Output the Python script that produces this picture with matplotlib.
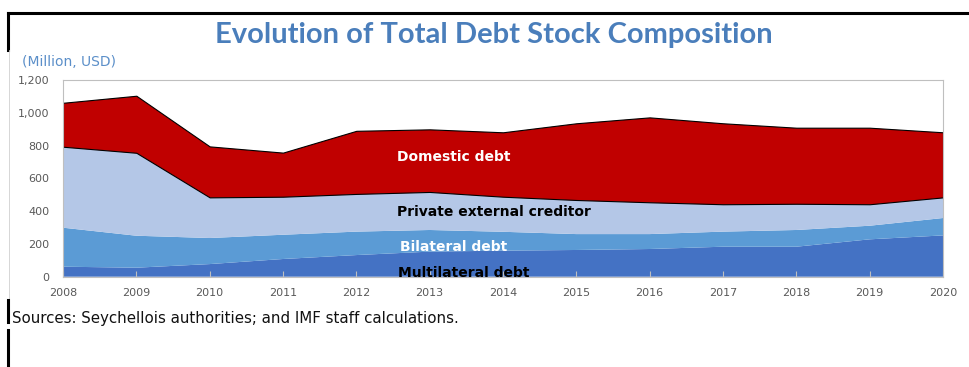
import matplotlib
matplotlib.use("Agg")
import matplotlib.pyplot as plt
from matplotlib.lines import Line2D

years = [2008, 2009, 2010, 2011, 2012, 2013, 2014, 2015, 2016, 2017, 2018, 2019, 2020]
multilateral = [61, 55, 77, 108, 132, 153, 159, 163, 169, 183, 183, 228, 252]
bilateral = [238, 195, 159, 148, 143, 132, 115, 97, 91, 92, 102, 83, 106]
private_ext = [494, 506, 248, 232, 230, 232, 214, 208, 194, 167, 160, 131, 126]
domestic = [268, 348, 311, 269, 385, 382, 393, 468, 518, 494, 464, 467, 397]

yticks = [0, 200, 400, 600, 800, 1000, 1200]
ytick_labels = ["0", "200", "400", "600", "800", "1,000", "1,200"]

colors = ["#4472C4", "#5B9BD5", "#B4C7E7", "#C00000"]
tick_grey = "#595959"
title_blue = "#4A7EBB"

W, H = 970, 367
fig = plt.figure(figsize=(W / 100, H / 100), dpi=100)
fig.patch.set_facecolor("white")

ax = fig.add_axes([63 / W, (H - 276.7) / H, 880 / W, 196.7 / H])
polys = ax.stackplot(years, multilateral, bilateral, private_ext, domestic,
                     colors=colors, linewidth=0)
polys[3].set_edgecolor("black")
polys[3].set_linewidth(0.8)

ax.set_xlim(2008, 2020)
ax.set_ylim(0, 1200)
ax.set_xticks(years)
ax.set_xticklabels([str(y) for y in years])
ax.set_yticks(yticks)
ax.set_yticklabels(ytick_labels)
ax.tick_params(axis="x", direction="in", length=4, color="#BFBFBF",
               labelsize=8, labelcolor=tick_grey, pad=8)
ax.tick_params(axis="y", length=0, labelsize=8, labelcolor=tick_grey, pad=10)
for s in ax.spines.values():
    s.set_color("#BFBFBF")
    s.set_linewidth(0.8)

# series labels inside the areas
lbl = dict(fontsize=10, fontweight="bold", ha="center", va="center")
ax.text(2013.33, 730, "Domestic debt", color="white", **lbl)
ax.text(2013.88, 395, "Private external creditor", color="black", **lbl)
ax.text(2013.33, 181, "Bilateral debt", color="white", **lbl)
ax.text(2013.47, 25, "Multilateral debt", color="black", **lbl)

fig.text(494 / W, 1 - 35 / H, "Evolution of Total Debt Stock Composition",
         ha="center", va="center", fontsize=21, fontweight="bold",
         color=title_blue, family=["Lato", "DejaVu Sans"])
fig.text(22 / W, 1 - 62 / H, "(Million, USD)", ha="left", va="center",
         fontsize=10, color="#5B8FC9")
fig.text(12 / W, 1 - 318 / H,
         "Sources: Seychellois authorities; and IMF staff calculations.",
         ha="left", va="center", fontsize=10.8, color="#111111")

# frame lines along top and left edge
def edge(xs, ys, lw, c="black"):
    fig.add_artist(Line2D([x / W for x in xs], [1 - y / H for y in ys],
                          color=c, linewidth=lw, transform=fig.transFigure))

edge([8, W], [13, 13], 2.2)
edge([8.5, 8.5], [13, 50], 2.2)
edge([9.5, 9.5], [50, 300], 0.6, "#D0D0D0")
edge([8.5, 8.5], [300, 322], 2.2)
edge([8.5, 8.5], [330, H], 2.2)

fig.savefig("out.png", dpi=100, facecolor="white")
